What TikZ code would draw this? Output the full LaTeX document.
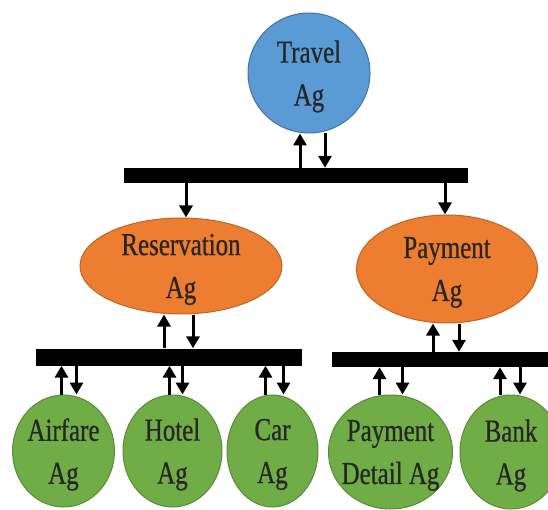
\documentclass[tikz,border=0pt]{standalone}
\usepackage{fontspec}
\setmainfont{Liberation Serif}[FakeStretch=0.78,FakeBold=0.6]
\usepackage{tikz}
\usetikzlibrary{shapes.geometric,arrows.meta}
\definecolor{colTop}{HTML}{5B9BD5}
\definecolor{colMid}{HTML}{ED7D31}
\definecolor{colLeaf}{HTML}{70AD47}
\tikzset{
  agent/.style  = {ellipse, inner sep=0pt, align=center, text depth=0pt,
                   font=\fontsize{32}{43}\selectfont, line width=1pt,
                   text=black!85},
  topag/.style  = {agent, draw=colTop!75!black, fill=colTop},
  midag/.style  = {agent, draw=colMid!80!black, fill=colMid},
  leafag/.style = {agent, draw=colLeaf!80!black, fill=colLeaf,
                   minimum height=112pt},
  bus/.style    = {rectangle, fill=black, inner sep=0pt},
  arr/.style    = {-{Triangle[length=12pt,width=13pt]}, line width=3pt},
}
\begin{document}
\begin{tikzpicture}[x=1pt, y=-1pt]
\useasboundingbox (0,0) rectangle (548,510);

\node[topag, minimum width=122pt, minimum height=120pt]
  (travel) at (309,73) {Travel\\Ag};

%% Buses
\node[bus, minimum width=344pt, minimum height=15pt] (topbus) at (296,175.5) {};
\node[bus, minimum width=266pt, minimum height=17pt] (lbus)   at (169,357) {};
\node[bus, minimum width=220pt, minimum height=15pt] (rbus)   at (442,359.5) {};

%% Second level
\node[midag, minimum width=202pt, minimum height=96pt]
  (resv) at (181,266) {Reservation\\Ag};
\node[midag, minimum width=181pt, minimum height=108pt]
  (pay)  at (447,269) {Payment\\Ag};

%% Leaves
\node[leafag, minimum width=99pt]  (airfare) at (63.5,451)  {Airfare\\Ag};
\node[leafag, minimum width=99pt]  (hotel)   at (172.5,451) {Hotel\\Ag};
\node[leafag, minimum width=91pt]  (car)     at (272.5,451) {Car\\Ag};
\node[leafag, minimum width=124pt, minimum height=114pt, inner xsep=-5pt]
  (pdetail) at (390.5,452) {Payment\\Detail Ag};
\node[leafag, minimum width=102pt, minimum height=114pt]
  (bank)    at (511,452)   {Bank\\Ag};

%% Arrows
\draw[arr] ([xshift=-9pt]topbus.north -| travel.south) -- ([xshift=-9pt]travel.south);
\draw[arr] ([xshift=16pt]travel.south) -- ([xshift=16pt]topbus.north -| travel.south);
\draw[arr] ([xshift=5pt]topbus.south -| resv.north) -- ([xshift=5pt]resv.north);
\draw[arr] ([xshift=-2pt]topbus.south -| pay.north) -- ([xshift=-2pt]pay.north);

\draw[arr] ([xshift=-17pt]lbus.north -| resv.south) -- ([xshift=-17pt]resv.south);
\draw[arr] ([xshift=12pt]resv.south) -- ([xshift=12pt]lbus.north -| resv.south);
\draw[arr] ([xshift=-14pt]rbus.north -| pay.south) -- ([xshift=-14pt]pay.south);
\draw[arr] ([xshift=12pt]pay.south) -- ([xshift=12pt]rbus.north -| pay.south);

\draw[arr] ([xshift=-2pt]airfare.north) -- ([xshift=-2pt]lbus.south -| airfare.north);
\draw[arr] ([xshift=13pt]lbus.south -| airfare.north) -- ([xshift=13pt]airfare.north);
\draw[arr] ([xshift=-3pt]hotel.north) -- ([xshift=-3pt]lbus.south -| hotel.north);
\draw[arr] ([xshift=10pt]lbus.south -| hotel.north) -- ([xshift=10pt]hotel.north);
\draw[arr] ([xshift=-7pt]car.north) -- ([xshift=-7pt]lbus.south -| car.north);
\draw[arr] ([xshift=11pt]lbus.south -| car.north) -- ([xshift=11pt]car.north);
\draw[arr] ([xshift=-11pt]pdetail.north) -- ([xshift=-11pt]rbus.south -| pdetail.north);
\draw[arr] ([xshift=12pt]rbus.south -| pdetail.north) -- ([xshift=12pt]pdetail.north);
\draw[arr] ([xshift=-11pt]bank.north) -- ([xshift=-11pt]rbus.south -| bank.north);
\draw[arr] ([xshift=9pt]rbus.south -| bank.north) -- ([xshift=9pt]bank.north);

\end{tikzpicture}
\end{document}
